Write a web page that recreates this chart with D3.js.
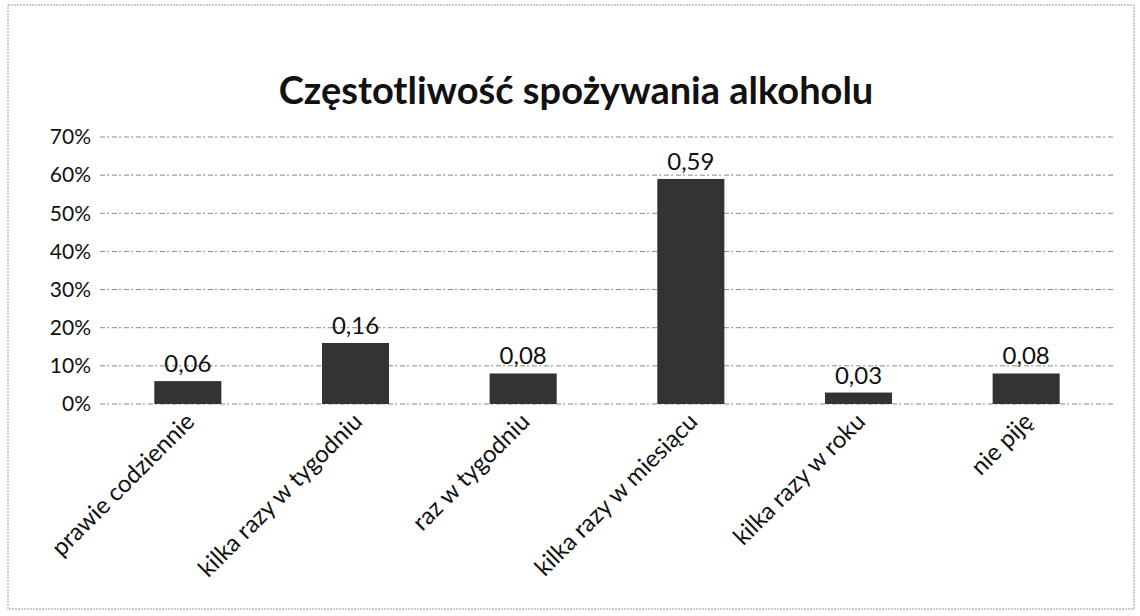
<!DOCTYPE html>
<html>
<head>
<meta charset="utf-8">
<script src="https://cdn.jsdelivr.net/npm/d3@7"></script>
<style>
  body { margin: 0; background: #fff; }
  svg text { font-family: Lato, "Open Sans", sans-serif; fill: #111; }
</style>
</head>
<body>
<div id="chart"></div>
<script>
// data
const categories = ["prawie codziennie", "kilka razy w tygodniu", "raz w tygodniu",
                    "kilka razy w miesiącu", "kilka razy w roku", "nie piję"];
const values = [0.06, 0.16, 0.08, 0.59, 0.03, 0.08];
const valueLabels = ["0,06", "0,16", "0,08", "0,59", "0,03", "0,08"];
const yTicks = [0, 0.1, 0.2, 0.3, 0.4, 0.5, 0.6, 0.7];

const width = 1140;
const height = 616;
const margin = { top: 137, right: 30, bottom: 212, left: 104 };

const svg = d3.select("#chart")
    .append("svg")
    .attr("width", width)
    .attr("height", height);

// frame of the chart area
svg.append("rect")
    .attr("x", 8).attr("y", 5)
    .attr("width", width - 14).attr("height", height - 12)
    .attr("fill", "none")
    .attr("stroke", "#999")
    .attr("stroke-width", 1)
    .attr("stroke-dasharray", "2,1");

svg.append("text")
    .attr("x", 576)
    .attr("y", 104)
    .attr("text-anchor", "middle")
    .attr("font-size", 38)
    .attr("font-weight", "bold")
    .text("Częstotliwość spożywania alkoholu");

const x = d3.scaleBand()
    .domain(categories)
    .range([margin.left, width - margin.right])
    .paddingInner(0.6)
    .paddingOuter(0.3);

const y = d3.scaleLinear()
    .domain([0, 0.7])
    .range([height - margin.bottom, margin.top]);

// gridlines
svg.append("g")
    .selectAll("line")
    .data(yTicks)
    .enter()
    .append("line")
    .attr("x1", margin.left - 4)
    .attr("x2", width - margin.right + 4)
    .attr("y1", d => y(d))
    .attr("y2", d => y(d))
    .attr("stroke", "#888")
    .attr("stroke-width", 1)
    .attr("stroke-dasharray", "5,2,2,3");

// y axis labels
const yAxis = svg.append("g")
    .attr("transform", `translate(${margin.left - 10},0)`)
    .call(d3.axisLeft(y).tickValues(yTicks).tickFormat(d3.format(".0%")).tickSize(0));
yAxis.select(".domain").remove();
yAxis.selectAll("text")
    .attr("font-size", 21)
    .attr("fill", "#111")
    .style("font-family", "Lato, 'Open Sans', sans-serif");

// bars
svg.append("g")
    .selectAll("rect")
    .data(values)
    .enter()
    .append("rect")
    .attr("x", (d, i) => x(categories[i]))
    .attr("y", d => y(d))
    .attr("width", x.bandwidth())
    .attr("height", d => y(0) - y(d))
    .attr("fill", "#333");

// value labels
svg.append("g")
    .selectAll("text")
    .data(values)
    .enter()
    .append("text")
    .attr("x", (d, i) => x(categories[i]) + x.bandwidth() / 2)
    .attr("y", d => y(d) - 9)
    .attr("text-anchor", "middle")
    .attr("font-size", 24)
    .text((d, i) => valueLabels[i]);

// category labels, rotated
const xAxis = svg.append("g")
    .attr("transform", `translate(0,${y(0)})`)
    .call(d3.axisBottom(x).tickSize(0));
xAxis.select(".domain").remove();
xAxis.selectAll("text")
    .attr("font-size", 24)
    .attr("fill", "#111")
    .style("font-family", "Lato, 'Open Sans', sans-serif")
    .attr("text-anchor", "end")
    .attr("dx", 0)
    .attr("dy", 0)
    .attr("transform", "translate(6,17) rotate(-45)");
</script>
</body>
</html>
